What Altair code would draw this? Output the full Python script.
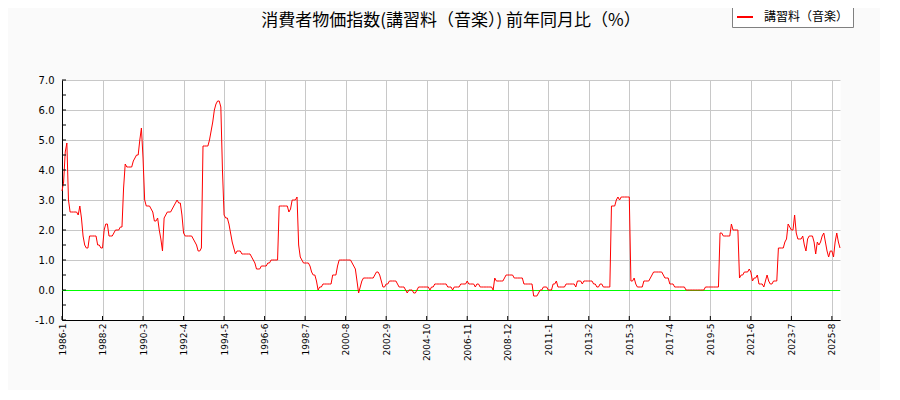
import json
import altair as alt
import pandas as pd

title_text = "消費者物価指数(講習料（音楽）) 前年同月比（%）"
series_name = "講習料（音楽）"
start_year = 1986

# monthly year-on-year change (%), Jan 1986 onward, one row per year
v1986_1995 = [
    3.3, 3.6, 4.6, 4.9, 3.0, 2.6, 2.6, 2.6, 2.6, 2.6, 2.5, 2.8,
    2.4, 1.8, 1.5, 1.4, 1.4, 1.8, 1.8, 1.8, 1.8, 1.8, 1.5, 1.5,
    1.4, 1.4, 2.0, 2.2, 2.2, 1.8, 1.8, 1.8, 1.9, 2.0, 2.0, 2.0,
    2.1, 2.1, 3.4, 4.2, 4.1, 4.1, 4.1, 4.1, 4.3, 4.4, 4.5, 4.5,
    5.0, 5.4, 4.4, 3.0, 2.8, 2.8, 2.8, 2.7, 2.6, 2.3, 2.3, 2.4,
    2.0, 1.7, 1.3, 2.4, 2.5, 2.6, 2.6, 2.6, 2.7, 2.8, 2.9, 3.0,
    2.9, 2.9, 2.5, 1.9, 1.8, 1.8, 1.8, 1.8, 1.8, 1.7, 1.6, 1.5,
    1.3, 1.3, 1.4, 4.8, 4.8, 4.8, 4.8, 5.0, 5.3, 5.6, 6.0, 6.2,
    6.3, 6.3, 6.1, 4.0, 2.5, 2.4, 2.4, 2.2, 1.9, 1.6, 1.4, 1.2,
    1.3, 1.3, 1.3, 1.2, 1.2, 1.2, 1.2, 1.2, 1.2, 1.1, 1.0, 0.9,
]
v1996_2005 = [
    0.7, 0.7, 0.7, 0.8, 0.8, 0.8, 0.8, 0.9, 0.9, 1.0, 1.0, 1.0,
    1.0, 1.0, 2.8, 2.8, 2.8, 2.8, 2.8, 2.8, 2.6, 2.7, 3.0, 3.0,
    3.0, 3.1, 1.5, 1.1, 1.0, 0.9, 0.9, 0.9, 0.9, 0.8, 0.6, 0.5,
    0.5, 0.3, 0.0, 0.1, 0.1, 0.2, 0.2, 0.2, 0.2, 0.2, 0.2, 0.5,
    0.5, 0.5, 0.8, 1.0, 1.0, 1.0, 1.0, 1.0, 1.0, 1.0, 1.0, 0.9,
    0.8, 0.7, 0.3, -0.1, 0.1, 0.3, 0.4, 0.4, 0.4, 0.4, 0.4, 0.4,
    0.4, 0.5, 0.6, 0.6, 0.5, 0.3, 0.1, 0.1, 0.2, 0.2, 0.3, 0.3,
    0.3, 0.3, 0.3, 0.2, 0.1, 0.1, 0.1, 0.1, 0.0, -0.1, 0.0, 0.0,
    0.0, -0.1, -0.1, 0.0, 0.1, 0.1, 0.1, 0.1, 0.1, 0.1, 0.1, 0.0,
    0.1, 0.1, 0.2, 0.2, 0.2, 0.2, 0.2, 0.2, 0.2, 0.2, 0.1, 0.1,
]
v2006_2015 = [
    0.1, 0.0, 0.1, 0.1, 0.1, 0.1, 0.2, 0.2, 0.2, 0.2, 0.3, 0.2,
    0.2, 0.2, 0.2, 0.1, 0.2, 0.2, 0.1, 0.1, 0.1, 0.1, 0.1, 0.1,
    0.1, 0.1, 0.0, 0.4, 0.3, 0.3, 0.3, 0.3, 0.3, 0.4, 0.5, 0.5,
    0.5, 0.5, 0.5, 0.4, 0.4, 0.4, 0.4, 0.4, 0.4, 0.2, 0.2, 0.2,
    0.2, 0.2, 0.2, -0.2, -0.2, -0.2, -0.1, 0.0, 0.0, 0.1, 0.1, 0.1,
    0.0, 0.0, 0.0, 0.2, 0.2, 0.3, 0.1, 0.1, 0.1, 0.1, 0.1, 0.2,
    0.2, 0.2, 0.2, 0.2, 0.2, 0.1, 0.3, 0.3, 0.3, 0.2, 0.3, 0.3,
    0.3, 0.3, 0.3, 0.3, 0.2, 0.2, 0.1, 0.1, 0.2, 0.2, 0.1, 0.1,
    0.1, 0.1, 0.1, 2.8, 2.8, 2.8, 3.0, 3.1, 3.0, 3.1, 3.1, 3.1,
    3.1, 3.1, 3.1, 0.3, 0.3, 0.4, 0.2, 0.1, 0.1, 0.1, 0.1, 0.3,
]
v2016_2026 = [
    0.3, 0.3, 0.3, 0.4, 0.5, 0.6, 0.6, 0.6, 0.6, 0.6, 0.6, 0.5,
    0.4, 0.4, 0.4, 0.2, 0.2, 0.2, 0.1, 0.1, 0.1, 0.1, 0.1, 0.1,
    0.1, 0.0, 0.0, 0.0, 0.0, 0.0, 0.0, 0.0, 0.0, 0.0, 0.0, 0.0,
    0.0, 0.1, 0.1, 0.1, 0.1, 0.1, 0.1, 0.1, 0.1, 0.1, 1.9, 1.9,
    1.8, 1.8, 1.8, 1.8, 1.8, 2.2, 2.0, 2.0, 2.0, 2.0, 0.4, 0.5,
    0.5, 0.6, 0.6, 0.6, 0.7, 0.6, 0.3, 0.4, 0.4, 0.5, 0.2, 0.2,
    0.2, 0.1, 0.3, 0.5, 0.3, 0.2, 0.2, 0.3, 0.3, 0.3, 1.4, 1.4,
    1.4, 1.4, 1.6, 1.7, 2.2, 2.1, 2.0, 2.0, 2.5, 1.9, 1.7, 1.7,
    1.7, 1.8, 1.5, 1.3, 1.7, 1.8, 1.8, 1.8, 1.6, 1.2, 1.6, 1.5,
    1.6, 1.8, 1.9, 1.6, 1.3, 1.1, 1.3, 1.3, 1.1, 1.6, 1.9, 1.6,
    1.4,
]

x_tick_months = [0, 25, 50, 75, 100, 125, 150, 175, 200, 225,
                 250, 275, 300, 325, 350, 375, 400, 425, 450, 475]
x_tick_labels = ["1986-1", "1988-2", "1990-3", "1992-4", "1994-5", "1996-6",
                 "1998-7", "2000-8", "2002-9", "2004-10", "2006-11", "2008-12",
                 "2011-1", "2013-2", "2015-3", "2017-4", "2019-5", "2021-6",
                 "2023-7", "2025-8"]
y_major = [-1, 0, 1, 2, 3, 4, 5, 6, 7]
y_labels = ["-1.0", "0.0", "1.0", "2.0", "3.0", "4.0", "5.0", "6.0", "7.0"]
y_minor = [-1.0, -0.5, 0.0, 0.5, 1.0, 1.5, 2.0, 2.5, 3.0, 3.5,
           4.0, 4.5, 5.0, 5.5, 6.0, 6.5, 7.0]

values = v1986_1995 + v1996_2005 + v2006_2015 + v2016_2026
df = pd.DataFrame({
    "idx": list(range(len(values))),
    "value": values,
    "month": [f"{start_year + i // 12}-{i % 12 + 1}" for i in range(len(values))],
    "series": [series_name] * len(values),
})

PLOT_W = 778
PLOT_H = 240
last_idx = len(values) - 1
xscale = alt.Scale(domain=[0, last_idx], nice=False, zero=False)
yscale = alt.Scale(domain=[-1, 7], nice=False, zero=False)

xaxis = alt.Axis(
    values=x_tick_months,
    labelExpr=f"{json.dumps(x_tick_labels)}[round(datum.value / 25)]",
    labelAngle=270, labelPadding=3, labelFont="DejaVu Sans", labelFontSize=9,
    labelColor="black", labelFlush=False, labelOverlap=False,
    ticks=False, grid=True, gridColor="#c8c8c8", gridWidth=1,
    domainColor="black", domainWidth=1, title=None,
)
yaxis = alt.Axis(
    values=y_major,
    labelExpr=f"{json.dumps(y_labels)}[round(datum.value) + 1]",
    labelPadding=8, labelFont="DejaVu Sans", labelFontSize=10,
    labelColor="black", labelFlush=False, labelOverlap=False,
    ticks=False, grid=True, gridColor="#c8c8c8", gridWidth=1,
    domainColor="black", domainWidth=1, title=None,
)

zero_df = pd.DataFrame({"value": [0.0]})
zero_line = alt.Chart(zero_df).mark_rule(
    color="#00ff00", strokeWidth=1, yOffset=0.5
).encode(
    y=alt.Y("value:Q", scale=yscale, axis=yaxis)
)

line = alt.Chart(df).mark_line(strokeWidth=1).encode(
    x=alt.X("idx:Q", scale=xscale, axis=xaxis),
    y=alt.Y("value:Q", scale=yscale, axis=yaxis),
    color=alt.Color(
        "series:N",
        scale=alt.Scale(domain=[series_name], range=["#ff0000"]),
        legend=alt.Legend(
            title=None, orient="none", legendX=670, legendY=-76,
            symbolType="stroke", symbolSize=256, symbolStrokeWidth=2,
            labelFont="Noto Sans CJK JP", labelFontSize=12, labelColor="black",
            labelOffset=10, fillColor="white", strokeColor="#808080",
            padding=4,
        ),
    ),
)

ytick_df = pd.DataFrame({"value": y_minor})
y_ticks = alt.Chart(ytick_df).mark_rule(color="black", strokeWidth=1).encode(
    y=alt.Y("value:Q", scale=yscale, axis=yaxis),
    x=alt.value(0),
    x2=alt.value(4),
)

xtick_df = pd.DataFrame({"idx": x_tick_months})
x_ticks = alt.Chart(xtick_df).mark_rule(color="black", strokeWidth=1).encode(
    x=alt.X("idx:Q", scale=xscale, axis=xaxis),
    y=alt.value(PLOT_H),
    y2=alt.value(PLOT_H - 4),
)

title_df = pd.DataFrame({"t": [title_text]})
title_mark = alt.Chart(title_df).mark_text(
    font="Noto Sans CJK JP", fontSize=17, color="black",
    align="center", baseline="middle", clip=False,
).encode(
    text="t:N",
    x=alt.value(PLOT_W / 2),
    y=alt.value(-59),
)

chart = alt.layer(zero_line, line, y_ticks, x_ticks, title_mark).properties(
    width=PLOT_W,
    height=PLOT_H,
    padding={"left": 54, "top": 72, "right": 40, "bottom": 70},
    autosize=alt.AutoSizeParams(type="none"),
    background="#fafafa",
).configure_view(fill="white", stroke="transparent")

chart.save("out.html", embed_options={"renderer": "svg", "actions": False})
